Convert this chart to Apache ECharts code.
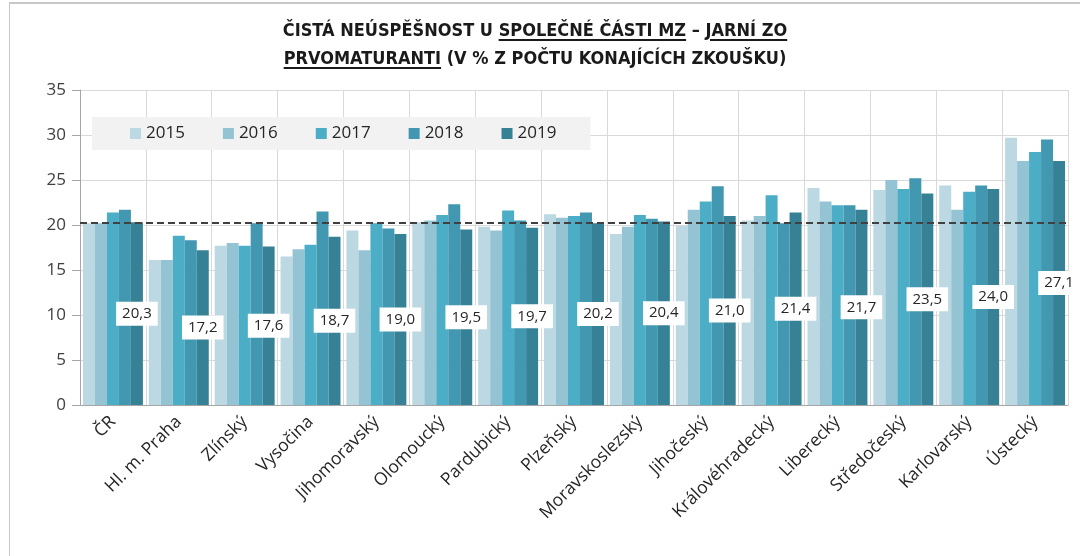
<!DOCTYPE html>
<html>
<head>
<meta charset="utf-8">
<script src="https://cdn.jsdelivr.net/npm/echarts@6/dist/echarts.min.js"></script>
<style>
  body { margin: 0; background: #fff; }
  #frame { position: relative; width: 1080px; height: 556px; overflow: hidden; }
  #border { position: absolute; left: 9px; top: 2px; right: -5px; bottom: -5px;
    border-top: 2px solid #c8c8c8; border-left: 1px solid #c8c8c8; }
  #title { position: absolute; left: 0; width: 1070px; top: 16px; text-align: center;
    font-family: "Liberation Sans Narrow", "DejaVu Sans Condensed", sans-serif;
    font-weight: bold; font-size: 18px; line-height: 28px; color: #1a1a1a; }
  #title u { text-decoration-thickness: 1.5px; text-underline-offset: 3px; }
  #chart-container { position: absolute; left: 0; top: 0; width: 1080px; height: 556px; }
</style>
</head>
<body>
<div id="frame">
  <div id="border"></div>
  <div id="chart-container"></div>
  <div id="title">ČISTÁ NEÚSPĚŠNOST U <u>SPOLEČNÉ ČÁSTI MZ</u> – <u>JARNÍ ZO</u><br><u>PRVOMATURANTI</u> (V % Z POČTU KONAJÍCÍCH ZKOUŠKU)</div>
</div>
<script>
  const regions = ["ČR", "Hl. m. Praha", "Zlínský", "Vysočina", "Jihomoravský", "Olomoucký",
    "Pardubický", "Plzeňský", "Moravskoslezský", "Jihočeský", "Královéhradecký",
    "Liberecký", "Středočeský", "Karlovarský", "Ústecký"];
  const years = ["2015", "2016", "2017", "2018", "2019"];

  const v2015 = [20.2, 16.1, 17.7, 16.5, 19.4, 20.3, 19.8, 21.2, 19.0, 19.9, 20.5, 24.1, 23.9, 24.4, 29.7];
  const v2016 = [20.2, 16.1, 18.0, 17.3, 17.2, 20.5, 19.4, 20.8, 19.8, 21.7, 21.0, 22.6, 25.0, 21.7, 27.1];
  const v2017 = [21.4, 18.8, 17.7, 17.8, 20.2, 21.1, 21.6, 21.0, 21.1, 22.6, 23.3, 22.2, 24.0, 23.7, 28.1];
  const v2018 = [21.7, 18.3, 20.2, 21.5, 19.6, 22.3, 20.5, 21.4, 20.7, 24.3, 20.2, 22.2, 25.2, 24.4, 29.5];
  const v2019 = [20.3, 17.2, 17.6, 18.7, 19.0, 19.5, 19.7, 20.2, 20.4, 21.0, 21.4, 21.7, 23.5, 24.0, 27.1];

  const values = [v2015, v2016, v2017, v2018, v2019];
  const colors = ["#bcd8e3", "#94c3d4", "#4badc6", "#4198b0", "#368196"];
  const crLine = v2019[0];

  var dom = document.getElementById("chart-container");
  var myChart = echarts.init(dom, null, {
    renderer: "canvas",
    useDirtyRect: false,
  });

  const series = years.map((y, i) => {
    const s = {
      name: y,
      type: "bar",
      data: values[i],
      barGap: "0%",
      barCategoryGap: "9%",
      itemStyle: { color: colors[i] },
    };
    if (i === years.length - 1) {
      s.label = {
        show: true,
        position: "inside",
        backgroundColor: "#ffffff",
        padding: [5, 6, 4, 6],
        color: "#262626",
        fontSize: 15,
        fontFamily: "Open Sans",
        formatter: (p) => p.value.toFixed(1).replace(".", ","),
      };
      // dashed reference line at the CR value
      s.markLine = {
        silent: true,
        symbol: ["none", "none"],
        label: { show: false },
        lineStyle: { type: [7, 4], color: "#404040", width: 2 },
        data: [{ yAxis: crLine }],
      };
    }
    return s;
  });

  var option = {
    animation: false,
    textStyle: { fontFamily: "Open Sans" },
    legend: {
      left: 92,
      top: 117,
      padding: [8, 34, 8, 38],
      backgroundColor: "#f2f2f2",
      itemWidth: 11,
      itemHeight: 11,
      itemGap: 38,
      icon: "rect",
      textStyle: { fontSize: 17, color: "#262626", fontFamily: "Open Sans" },
      data: years,
    },
    grid: { left: 80, right: 12, top: 90, bottom: 151, containLabel: false },
    xAxis: {
      type: "category",
      data: regions,
      axisLine: { lineStyle: { color: "#a6a6a6" } },
      axisTick: { length: 6, lineStyle: { color: "#a6a6a6" } },
      splitLine: { show: true, lineStyle: { color: "#d9d9d9" } },
      axisLabel: {
        interval: 0,
        rotate: 45,
        margin: 14,
        fontSize: 17.5,
        color: "#262626",
        fontFamily: "Open Sans",
      },
    },
    yAxis: {
      type: "value",
      min: 0,
      max: 35,
      interval: 5,
      axisLine: { show: true, lineStyle: { color: "#a6a6a6" } },
      axisTick: { show: true, length: 8, lineStyle: { color: "#a6a6a6" } },
      splitLine: { lineStyle: { color: "#d9d9d9" } },
      axisLabel: { fontSize: 17, color: "#404040", margin: 14, fontFamily: "Open Sans" },
    },
    series: series,
  };

  if (option && typeof option === "object") {
    myChart.setOption(option);
  }

  window.addEventListener("resize", myChart.resize);
</script>
</body>
</html>
